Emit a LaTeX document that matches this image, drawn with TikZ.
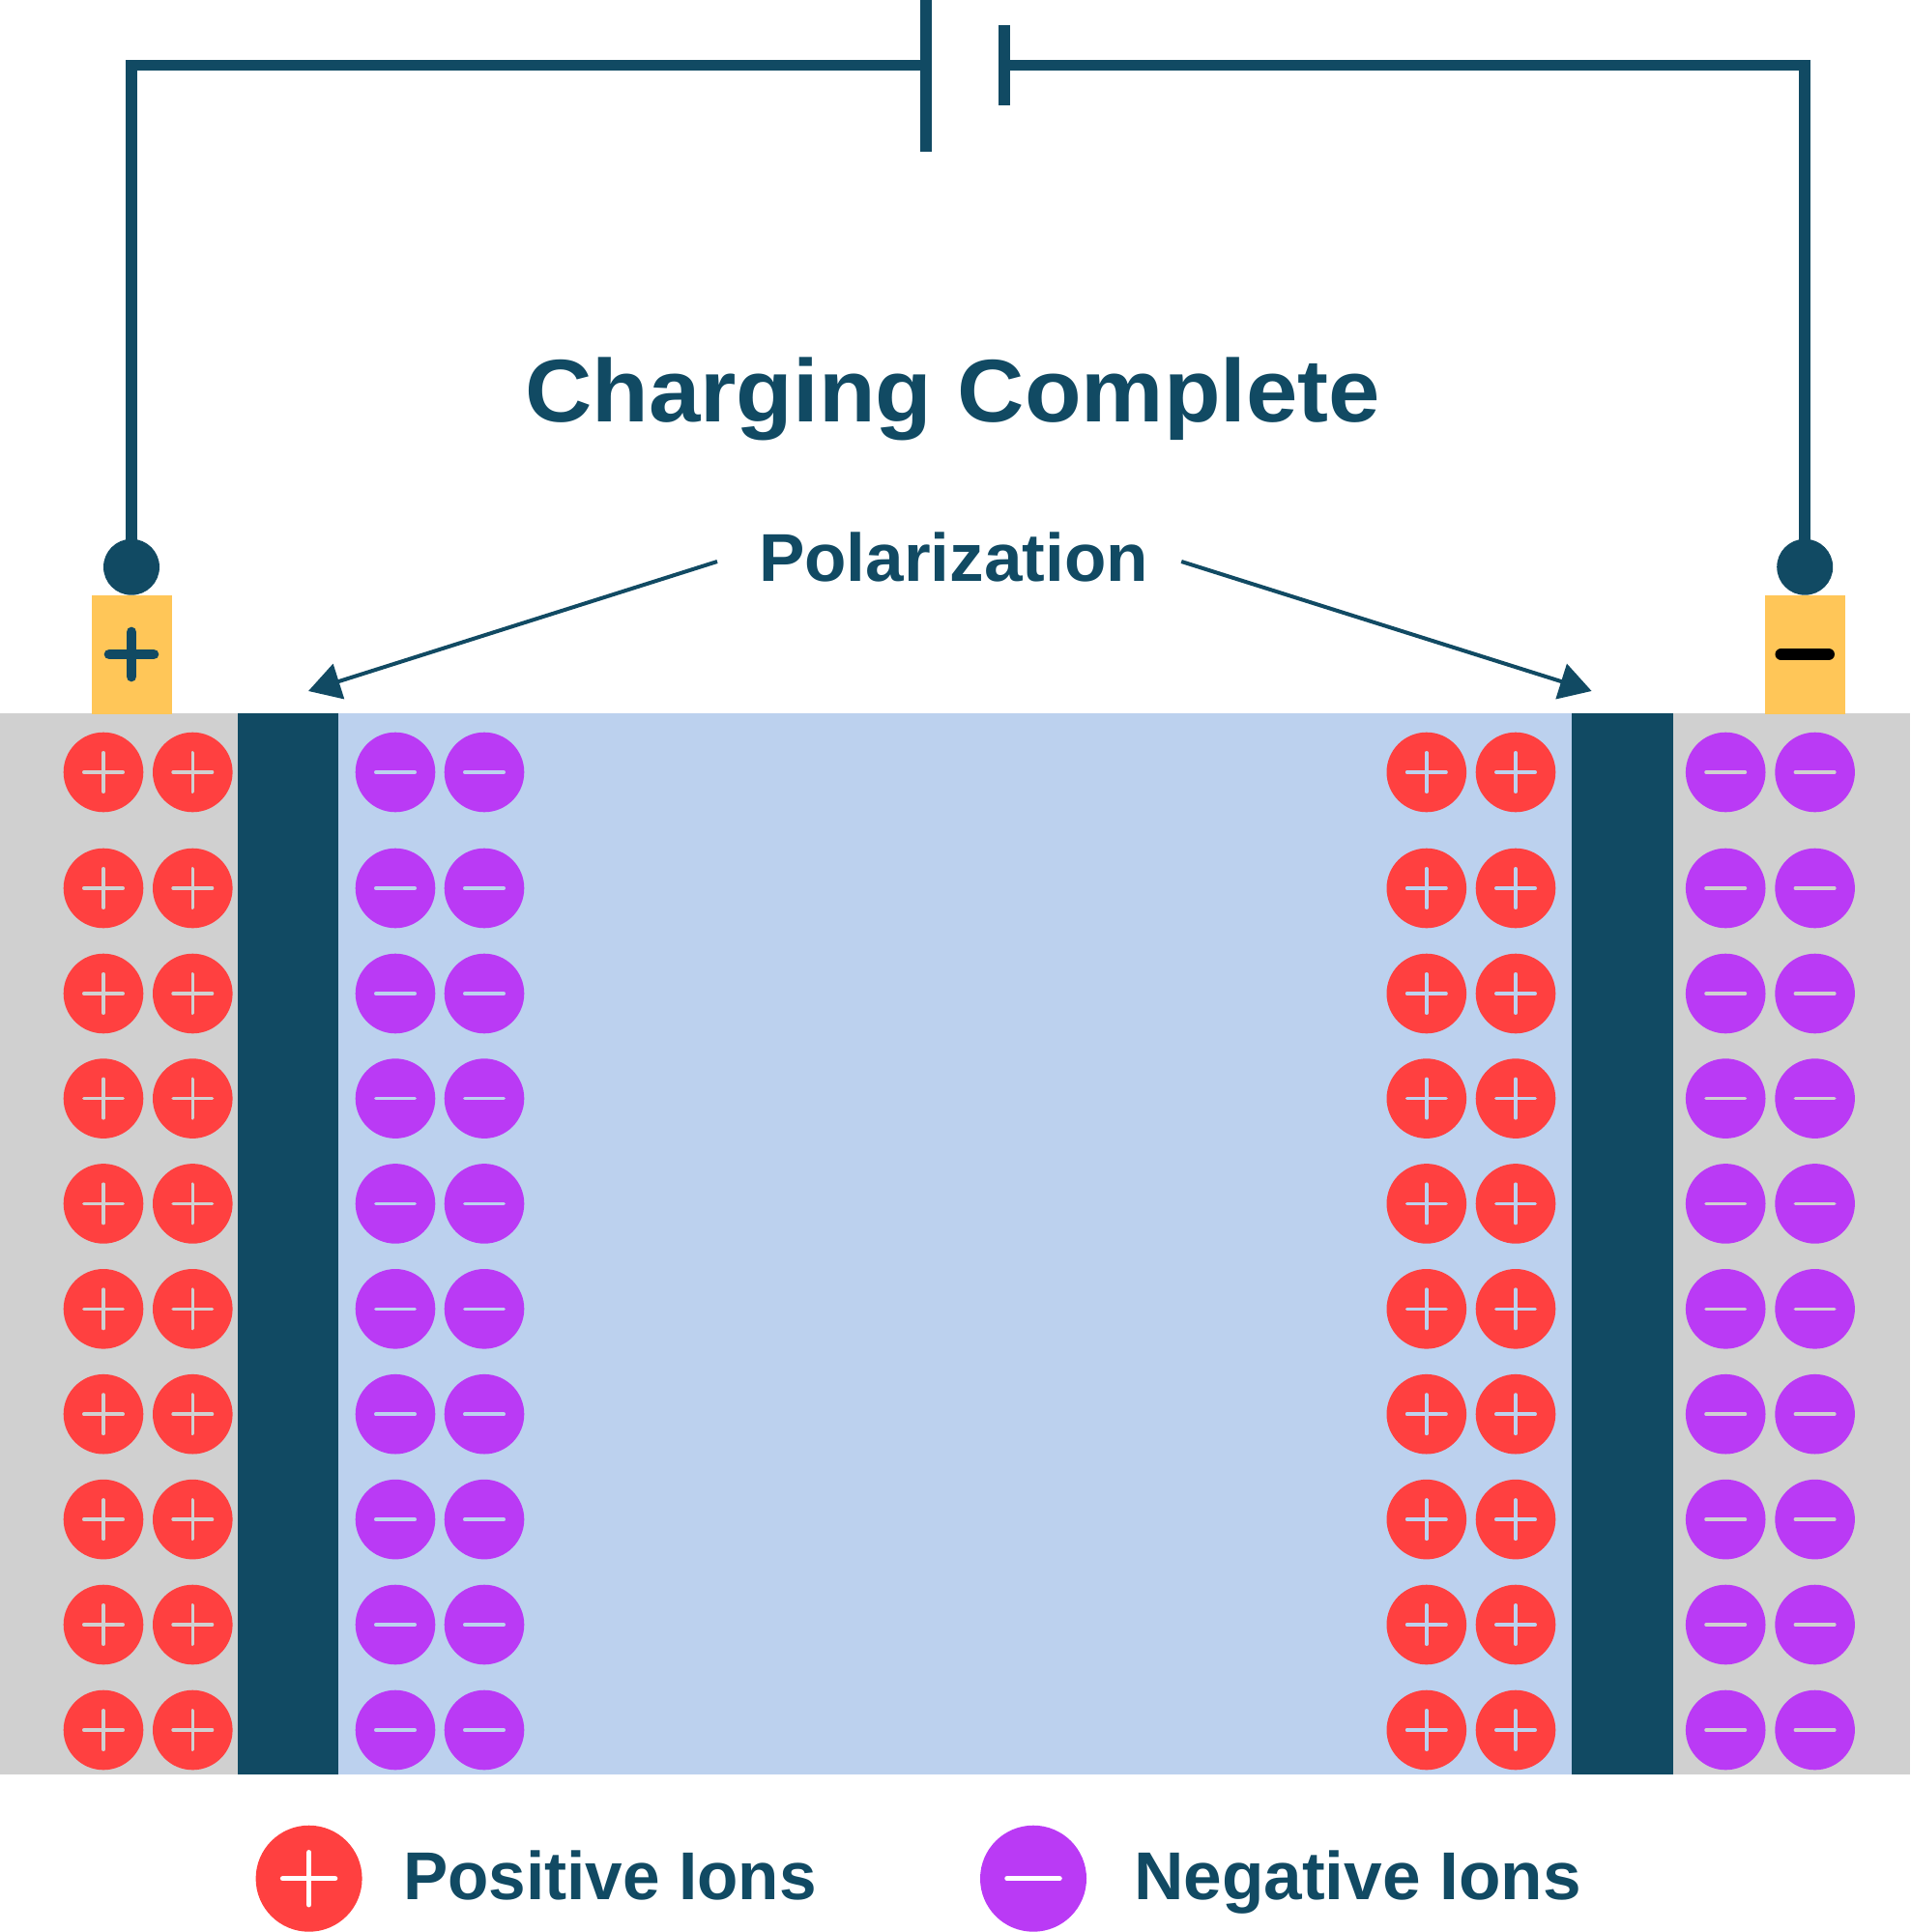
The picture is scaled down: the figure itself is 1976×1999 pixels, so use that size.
\documentclass[tikz,border=0pt]{standalone}
\usepackage{fontspec}
\setmainfont{Liberation Sans}
\usetikzlibrary{arrows.meta}
\definecolor{navy}{HTML}{114A63}
\definecolor{ionred}{HTML}{FF4040}
\definecolor{ionpurple}{HTML}{BA3AF5}
\definecolor{greyband}{HTML}{D0D0D0}
\definecolor{blueband}{HTML}{BCD1EE}
\definecolor{amber}{HTML}{FFC658}
\tikzset{
  x=1pt,y=-1pt,
  wire/.style={draw=navy,line width=11.6pt},
  plate/.style={fill=navy,draw=none,inner sep=0pt,minimum width=12pt},
  post/.style={circle,fill=navy,draw=none,inner sep=0pt,minimum size=58pt},
  terminal/.style={fill=amber,draw=none,inner sep=0pt,minimum width=83pt,minimum height=123pt},
  ion/.style={circle,fill=#1,draw=none,inner sep=0pt,minimum size=82.6pt},
  sym/.style={line width=3.6pt,line cap=round},
  posion/.style={ion=ionred,path picture={\draw[sym,draw=#1] (path picture bounding box.center) +(-20.2,0) -- +(20.2,0) +(0,-20.2) -- +(0,20.2);}},
  negion/.style={ion=ionpurple,path picture={\draw[sym,draw=#1] (path picture bounding box.center) +(-20.2,0) -- +(20.2,0);}},
  callout/.style={draw=navy,line width=4pt,-{Triangle[length=33pt,width=37.6pt]}},
  legpos/.style={circle,fill=ionred,inner sep=0pt,minimum size=110pt,path picture={\draw[line width=5.5pt,line cap=round,draw=white] (path picture bounding box.center) +(-27,0) -- +(27,0) +(0,-27) -- +(0,27);}},
  legneg/.style={circle,fill=ionpurple,inner sep=0pt,minimum size=110pt,path picture={\draw[line width=5.5pt,line cap=round,draw=white] (path picture bounding box.center) +(-27,0) -- +(27,0);}},
  lab/.style={text=navy,inner sep=0pt},
}
\begin{document}
\begin{tikzpicture}
\useasboundingbox (0,0) rectangle (1976,1999);
% bands
\fill[greyband] (0,738) rectangle (245.5,1836.3);
\fill[blueband] (350,738) rectangle (1625.6,1836.3);
\fill[greyband] (1731,738) rectangle (1976,1836.3);
\fill[navy] (245.5,738) rectangle (350,1836.3);
\fill[navy] (1625.6,738) rectangle (1731,1836.3);
% terminals
\node[terminal] (termL) at (136,677) {};
\node[terminal] (termR) at (1867.2,677) {};
\draw[navy,line width=10.7pt,line cap=round] (termL.center) +(-23,0) -- +(23,0) +(0,-23) -- +(0,23);
\draw[black,line width=12.5pt,line cap=round] (termR.center) +(-24.5,0) -- +(24.5,0);
% battery
\node[plate,minimum height=156.7pt] (plateL) at (957.6,78.35) {};
\node[plate,minimum height=82.7pt] (plateR) at (1038.8,67.35) {};
\coordinate (batL) at (957.6,67.5);
\coordinate (batR) at (1038.8,67.5);
\node[post] (postL) at (136,586.7) {};
\node[post] (postR) at (1867.2,586.7) {};
\draw[wire] (batL) -| (postL.center);
\draw[wire] (batR) -| (postR.center);
% ions
\foreach \n/\y in {a/799,b/919,c/1028,d/1136.6,e/1245.4,f/1354.3,g/1463.2,h/1572.1,i/1681,j/1790}{
  \node[posion=greyband] (pa\n) at (107,\y) {};
  \node[posion=greyband] (pb\n) at (199.3,\y) {};
  \node[negion=blueband] (na\n) at (409,\y) {};
  \node[negion=blueband] (nb\n) at (501,\y) {};
  \node[posion=blueband] (pc\n) at (1475.8,\y) {};
  \node[posion=blueband] (pd\n) at (1568,\y) {};
  \node[negion=greyband] (nc\n) at (1785.2,\y) {};
  \node[negion=greyband] (nd\n) at (1877.6,\y) {};
}
% texts
\node[lab,anchor=base] (title) at (985.6,436) {\scalebox{1.043}[1]{\bfseries\fontsize{92}{92}\selectfont Charging Complete}};
\node[lab,anchor=base] (pol) at (986.5,601) {\scalebox{1.015}[1]{\bfseries\fontsize{70}{70}\selectfont Polarization}};
\coordinate (calLs) at (742,581);
\coordinate (calLt) at (319,715);
\coordinate (calRs) at (1222.2,581);
\coordinate (calRt) at (1646.6,715);
\draw[callout] (calLs) -- (calLt);
\draw[callout] (calRs) -- (calRt);
% legend
\node[legpos] (legP) at (319.6,1943.7) {};
\node[legneg] (legN) at (1069,1943.7) {};
\node[lab,anchor=base west] (legPt) at (417,1965.7) {\scalebox{0.99}[1]{\bfseries\fontsize{70}{70}\selectfont Positive Ions}};
\node[lab,anchor=base west] (legNt) at (1173,1965.7) {\scalebox{1.017}[1]{\bfseries\fontsize{70}{70}\selectfont Negative Ions}};
\end{tikzpicture}
\end{document}
